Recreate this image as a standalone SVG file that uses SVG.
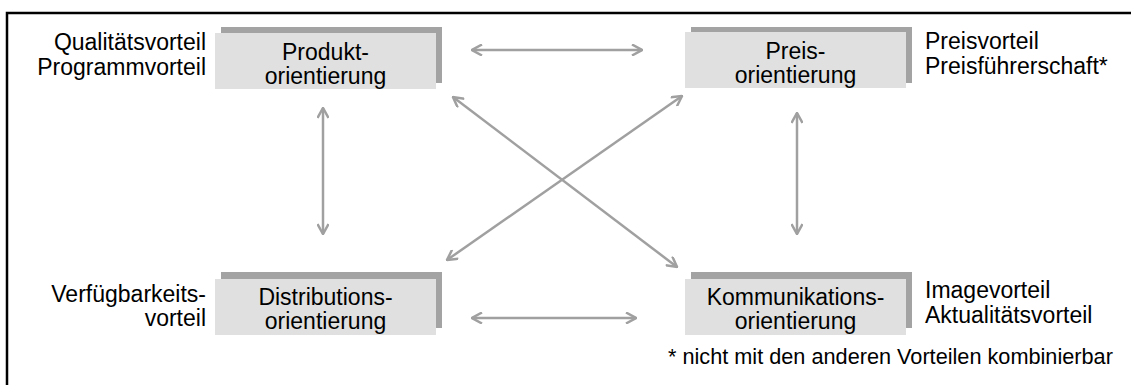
<svg xmlns="http://www.w3.org/2000/svg" width="1131" height="385" viewBox="0 0 1131 385">
  <style>
    .frame { fill: none; stroke: #000; stroke-width: 2.5; }
    .shadow { fill: #a3a3a3; }
    .box { fill: #e0e0e0; }
    .label { font-family: "Liberation Sans", Arial, sans-serif; font-size: 23px; fill: #000; }
    .side { font-family: "Liberation Sans", Arial, sans-serif; font-size: 23px; fill: #000; }
    .note { font-family: "Liberation Sans", Arial, sans-serif; font-size: 21.7px; fill: #000; }
    .link { fill: none; stroke: #a0a0a0; stroke-width: 2.5; marker-start: url(#head); marker-end: url(#head); }
  </style>
  <defs>
    <marker id="head" viewBox="0 0 12 12" refX="11" refY="6" markerWidth="12" markerHeight="12" markerUnits="userSpaceOnUse" orient="auto-start-reverse">
      <path d="M1,0.5 L11,6 L1,11.5" fill="none" stroke="#a0a0a0" stroke-width="2.5" stroke-linejoin="miter"/>
    </marker>
  </defs>

  <rect width="1131" height="385" fill="#fff"/>

  <!-- outer frame: top and left edges -->
  <path class="frame" d="M7,385 L7,13 L1131,13"/>

  <!-- connectors -->
  <g id="connectors">
    <line class="link" x1="472" y1="50" x2="642" y2="50"/>
    <line class="link" x1="472" y1="318" x2="636" y2="318"/>
    <line class="link" x1="323" y1="108" x2="323" y2="234"/>
    <line class="link" x1="797" y1="113" x2="797" y2="234"/>
    <line class="link" x1="453" y1="97" x2="677" y2="267"/>
    <line class="link" x1="682" y1="96" x2="447" y2="260"/>
  </g>

  <!-- Produktorientierung -->
  <g id="produkt">
    <rect class="shadow" x="221" y="27" width="221" height="56"/>
    <rect class="box" x="215" y="33" width="221" height="56"/>
    <text class="label" x="325.5" y="60" text-anchor="middle">Produkt-</text>
    <text class="label" x="325.5" y="84" text-anchor="middle">orientierung</text>
    <text class="side" x="206" y="50" text-anchor="end">Qualitätsvorteil</text>
    <text class="side" x="206" y="75" text-anchor="end">Programmvorteil</text>
  </g>

  <!-- Preisorientierung -->
  <g id="preis">
    <rect class="shadow" x="691" y="27" width="221" height="56"/>
    <rect class="box" x="685" y="32" width="221" height="56"/>
    <text class="label" x="795.5" y="59" text-anchor="middle">Preis-</text>
    <text class="label" x="795.5" y="83" text-anchor="middle">orientierung</text>
    <text class="side" x="925" y="49">Preisvorteil</text>
    <text class="side" x="925" y="74">Preisführerschaft*</text>
  </g>

  <!-- Distributionsorientierung -->
  <g id="distribution">
    <rect class="shadow" x="221" y="272" width="221" height="56"/>
    <rect class="box" x="215" y="279" width="221" height="56"/>
    <text class="label" x="325.5" y="305" text-anchor="middle">Distributions-</text>
    <text class="label" x="325.5" y="329" text-anchor="middle">orientierung</text>
    <text class="side" x="206" y="302" text-anchor="end">Verfügbarkeits-</text>
    <text class="side" x="206" y="326" text-anchor="end">vorteil</text>
  </g>

  <!-- Kommunikationsorientierung -->
  <g id="kommunikation">
    <rect class="shadow" x="691" y="272" width="221" height="56"/>
    <rect class="box" x="685" y="279" width="221" height="56"/>
    <text class="label" x="795.5" y="305" text-anchor="middle">Kommunikations-</text>
    <text class="label" x="795.5" y="329" text-anchor="middle">orientierung</text>
    <text class="side" x="925" y="298">Imagevorteil</text>
    <text class="side" x="925" y="323">Aktualitätsvorteil</text>
  </g>

  <!-- footnote -->
  <text class="note" x="668" y="364">* nicht mit den anderen Vorteilen kombinierbar</text>
</svg>
